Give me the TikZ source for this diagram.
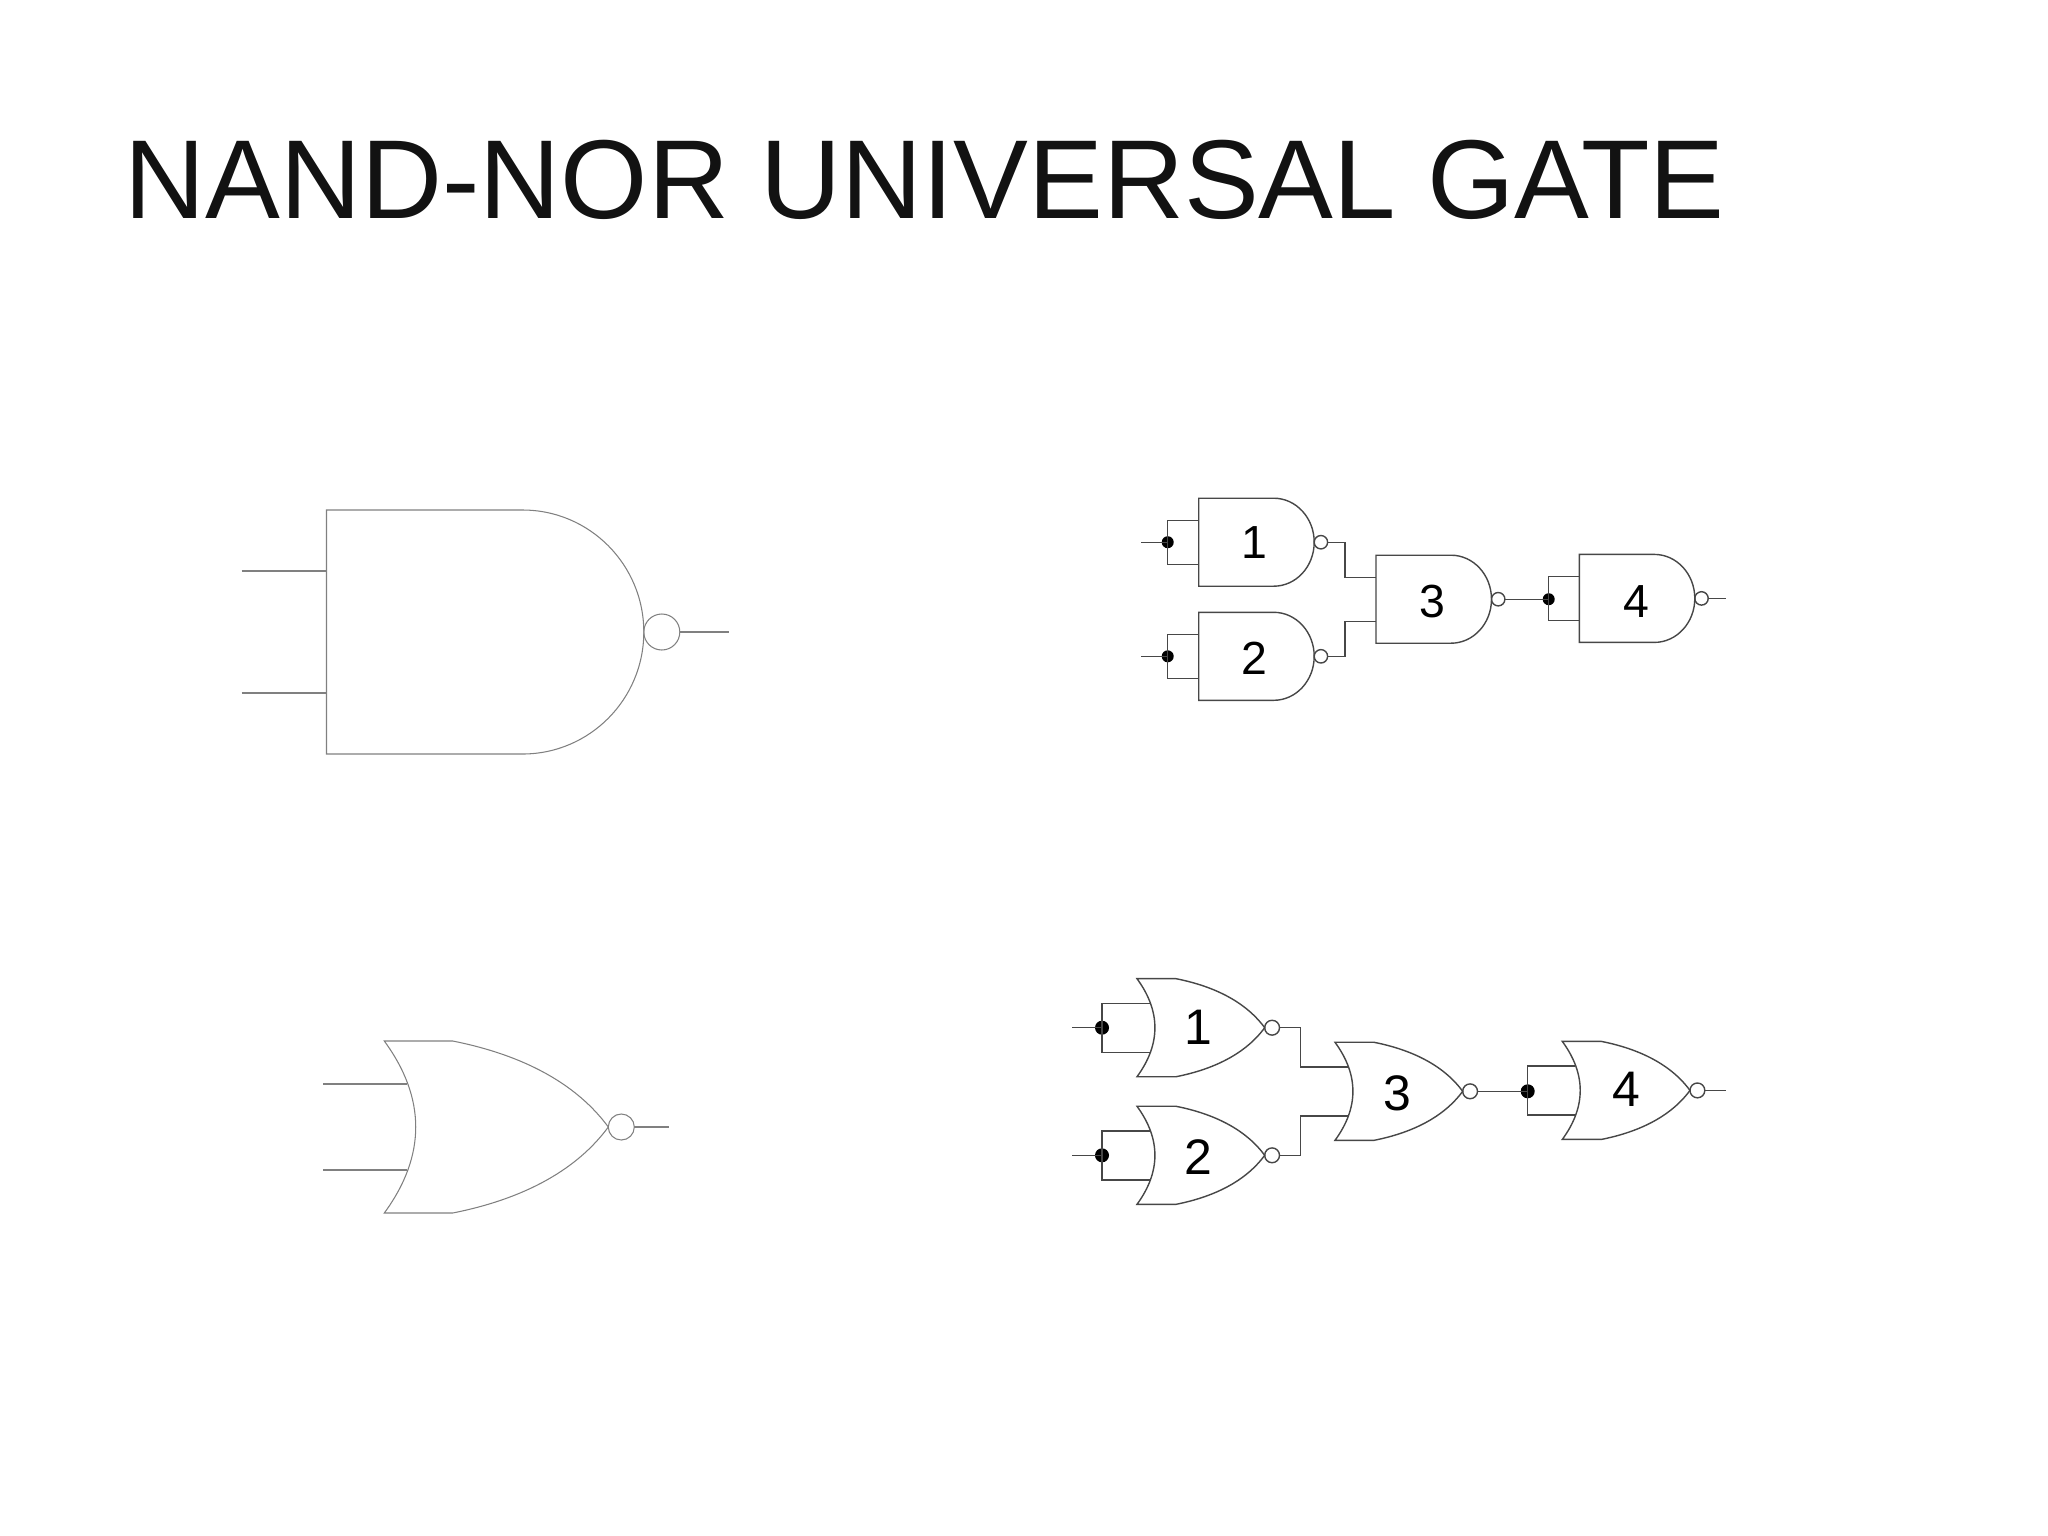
\documentclass[tikz,border=0pt]{standalone}
\usepackage{fontspec}
\setmainfont{Liberation Sans}
\usepackage{tikz}
\def\nandgate[#1](#2:#3)(#4:#5:#6:#7){\begin{scope}[shift={(#3)},#1]
	\draw (0, -#4) -- (#5, -#4) arc[start angle=-90, end angle=90, x radius=#6, y radius=#4] -- (0, #4) -- cycle;
	\draw (#5+#6+#7, 0) circle (#7);
	\coordinate (#2-a) at (0, -#4/2);
	\coordinate (#2-b) at (0, #4/2);
	\coordinate (#2-o) at (#5+#6+2*#7, 0);
	\end{scope}}
\def\norgate[#1](#2:#3)(#4){\begin{scope}[shift={(#3)},scale=#4,#1]
	\draw (0, -86) -- (68.4, -86) .. controls (122.4, -75.3) and (185.7, -52.1) .. (224, 0)
		.. controls (185.7, 52.1) and (122.4, 75.3) .. (68.4, 86) -- (0, 86)
		.. controls (41.9, 28.7) and (41.9, -28.7) .. (0, -86) -- cycle;
	\draw (237, 0) circle (13);
	\coordinate (#2-a) at (23, -43);
	\coordinate (#2-b) at (23, 43);
	\coordinate (#2-o) at (250, 0);
	\end{scope}}
\tikzset{
	biggate/.style={color=black!50, line width=0.3pt},
	smallgate/.style={color=black!72, line width=0.4pt},
	joint/.style={circle, fill=black, inner sep=0pt, minimum size=#1},
	digit/.style={inner sep=0pt, font=\fontsize{13.2pt}{15pt}\selectfont},
	nordigit/.style={inner sep=0pt, font=\fontsize{14.2pt}{16pt}\selectfont},
}
\begin{document}
\begin{tikzpicture}[x=0.01cm, y=-0.01cm]
	%%%%% START %%%%%
	\useasboundingbox (0, 0) rectangle (2048, 1536);
	
	\node[anchor=base west, inner sep=0pt, text=black!93, font=\fontsize{31.9pt}{36pt}\selectfont] (title) at (124, 218) {NAND-NOR UNIVERSAL GATE};
	
	% big gates
	\nandgate[biggate](bignand:326.5, 632)(122:196:121.3:18);
	\coordinate (bignandina) at (241.6, 571);
	\coordinate (bignandinb) at (241.6, 693);
	\coordinate (bignandout) at (729, 632);
	\draw[biggate] (bignandina) -- (bignand-a);
	\draw[biggate] (bignandinb) -- (bignand-b);
	\draw[biggate] (bignand-o) -- (bignandout);
	
	\norgate[biggate](bignor:384.3, 1127)(1);
	\coordinate (bignorina) at (323.3, 1084);
	\coordinate (bignorinb) at (323.3, 1170);
	\coordinate (bignorout) at (669.3, 1127);
	\draw[biggate] (bignorina) -- (bignor-a);
	\draw[biggate] (bignorinb) -- (bignor-b);
	\draw[biggate] (bignor-o) -- (bignorout);
	
	% nand circuit
	\nandgate[smallgate](nand1:1198.7, 542.2)(44:75:40.5:6.7);
	\nandgate[smallgate](nand2:1198.7, 656.3)(44:75:40.5:6.7);
	\nandgate[smallgate](nand3:1376, 599.2)(44:75:40.5:6.7);
	\nandgate[smallgate](nand4:1579.3, 598.4)(44:75:40.5:6.7);
	
	\node[digit] (nandlabel1) at (1254, 542.5) {1};
	\node[digit] (nandlabel2) at (1254, 658) {2};
	\node[digit] (nandlabel3) at (1432.2, 601.7) {3};
	\node[digit] (nandlabel4) at (1636.5, 601.7) {4};
	
	\node[joint=0.12cm] (nandjoint1) at (1167.7, 542.2) {};
	\node[joint=0.12cm] (nandjoint2) at (1167.7, 656.3) {};
	\node[joint=0.12cm] (nandjoint4) at (1548.7, 599.2) {};
	\coordinate (nandin1) at (1141.3, 542.2);
	\coordinate (nandin2) at (1141.3, 656.3);
	\coordinate (nandout) at (1725.7, 598.4);
	\coordinate (nandbend1) at (1345, 542.2);
	\coordinate (nandbend2) at (1345, 656.3);
	
	\draw[smallgate] (nandin1) -- (nandjoint1.center);
	\draw[smallgate] (nand1-a) -| (nandjoint1.center) |- (nand1-b);
	\draw[smallgate] (nandin2) -- (nandjoint2.center);
	\draw[smallgate] (nand2-a) -| (nandjoint2.center) |- (nand2-b);
	\draw[smallgate] (nand1-o) -- (nandbend1) |- (nand3-a);
	\draw[smallgate] (nand2-o) -- (nandbend2) |- (nand3-b);
	\draw[smallgate] (nand3-o) -- (nandjoint4.center);
	\draw[smallgate] (nand4-a) -| (nandjoint4.center) |- (nand4-b);
	\draw[smallgate] (nand4-o) -- (nandout);
	
	% nor circuit
	\norgate[smallgate](nor1:1137, 1027.7)(0.57);
	\norgate[smallgate](nor2:1137, 1155.3)(0.57);
	\norgate[smallgate](nor3:1335, 1091.3)(0.57);
	\norgate[smallgate](nor4:1562.3, 1090.4)(0.57);
	
	\node[nordigit] (norlabel1) at (1198.7, 1027.5) {1};
	\node[nordigit] (norlabel2) at (1198.8, 1157.3) {2};
	\node[nordigit] (norlabel3) at (1397.5, 1093) {3};
	\node[nordigit] (norlabel4) at (1626, 1089) {4};
	
	\node[joint=0.14cm] (norjoint1) at (1102, 1027.7) {};
	\node[joint=0.14cm] (norjoint2) at (1102, 1155.3) {};
	\node[joint=0.14cm] (norjoint4) at (1527.7, 1091.3) {};
	\coordinate (norin1) at (1072.3, 1027.7);
	\coordinate (norin2) at (1072.3, 1155.3);
	\coordinate (norout) at (1725.7, 1090.4);
	\coordinate (norbend1) at (1300.3, 1027.7);
	\coordinate (norbend2) at (1300.3, 1155.3);
	
	\draw[smallgate] (norin1) -- (norjoint1.center);
	\draw[smallgate] (nor1-a) -| (norjoint1.center) |- (nor1-b);
	\draw[smallgate] (norin2) -- (norjoint2.center);
	\draw[smallgate] (nor2-a) -| (norjoint2.center) |- (nor2-b);
	\draw[smallgate] (nor1-o) -- (norbend1) |- (nor3-a);
	\draw[smallgate] (nor2-o) -- (norbend2) |- (nor3-b);
	\draw[smallgate] (nor3-o) -- (norjoint4.center);
	\draw[smallgate] (nor4-a) -| (norjoint4.center) |- (nor4-b);
	\draw[smallgate] (nor4-o) -- (norout);
	
	%%%%% END %%%%%
\end{tikzpicture}
\end{document}
